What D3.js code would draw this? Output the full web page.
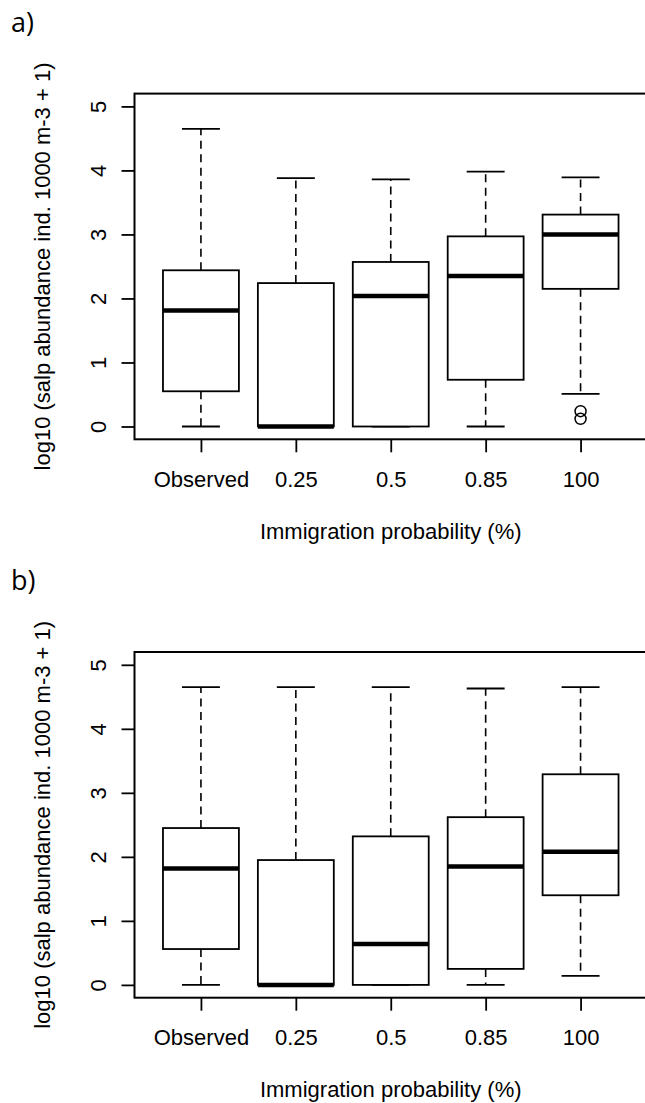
<!DOCTYPE html>
<html>
<head>
<meta charset="utf-8">
<script src="https://cdn.jsdelivr.net/npm/d3@7"></script>
<style>
  body { margin: 0; background: #fff; }
</style>
</head>
<body>
<svg id="chart" width="645" height="1103"></svg>
<script>
// groups along the x axis
const groups = ["Observed", "0.25", "0.5", "0.85", "100"];
const yTicks = [0, 1, 2, 3, 4, 5];

// panel a) box stats, log10 scale
const aLow  = [0.00, 0.00, 0.00, 0.00, 0.51];
const aQ1   = [0.55, 0.00, 0.00, 0.73, 2.15];
const aMed  = [1.81, 0.00, 2.04, 2.35, 3.00];
const aQ3   = [2.44, 2.24, 2.57, 2.97, 3.31];
const aHigh = [4.65, 3.88, 3.86, 3.98, 3.89];
const aOut  = [[], [], [], [], [0.24, 0.12]];

// panel b)
const bLow  = [0.00, 0.00, 0.00, 0.00, 0.14];
const bQ1   = [0.56, 0.00, 0.00, 0.25, 1.40];
const bMed  = [1.82, 0.00, 0.64, 1.85, 2.08];
const bQ3   = [2.45, 1.95, 2.32, 2.62, 3.29];
const bHigh = [4.65, 4.65, 4.65, 4.63, 4.65];
const bOut  = [[], [], [], [], []];

const xTitle = "Immigration probability (%)";
const yTitle = "log10 (salp abundance ind. 1000 m-3 + 1)";

const font = "'Liberation Sans', Arial, Helvetica, sans-serif";
const plotLeft = 134.5, plotRight = 647, plotTop = 93.6, plotBottom = 439.3;

const x = d3.scaleLinear().domain([0.3, 5.7]).range([plotLeft, plotRight]);
const y = d3.scaleLinear().domain([-0.2, 5.2]).range([plotBottom, plotTop]);

const svg = d3.select("#chart");

function drawPanel(offset, tag, low, q1, med, q3, high, outs) {
  const g = svg.append("g").attr("transform", "translate(0," + offset + ")");

  g.append("text")
    .attr("x", 11).attr("y", 32)
    .attr("font-family", "'Open Sans', 'Noto Sans', sans-serif")
    .attr("font-size", 27)
    .text(tag);

  const data = groups.map((d, i) => ({
    i: i + 1, low: low[i], q1: q1[i], med: med[i], q3: q3[i], high: high[i], out: outs[i]
  }));

  const boxes = g.selectAll(".box").data(data).enter().append("g").attr("class", "box");

  // whiskers
  boxes.append("line")
    .attr("x1", d => x(d.i)).attr("x2", d => x(d.i))
    .attr("y1", d => y(d.q3)).attr("y2", d => y(d.high))
    .attr("stroke", "#000").attr("stroke-width", 1.6).attr("stroke-dasharray", "8,5.5");
  boxes.append("line")
    .attr("x1", d => x(d.i)).attr("x2", d => x(d.i))
    .attr("y1", d => y(d.q1)).attr("y2", d => y(d.low))
    .attr("stroke", "#000").attr("stroke-width", 1.6).attr("stroke-dasharray", "8,5.5");

  // staples
  ["high", "low"].forEach(k => {
    boxes.append("line")
      .attr("x1", d => x(d.i - 0.2)).attr("x2", d => x(d.i + 0.2))
      .attr("y1", d => y(d[k])).attr("y2", d => y(d[k]))
      .attr("stroke", "#000").attr("stroke-width", 1.8);
  });

  boxes.append("rect")
    .attr("x", d => x(d.i - 0.4))
    .attr("width", d => x(d.i + 0.4) - x(d.i - 0.4))
    .attr("y", d => y(d.q3))
    .attr("height", d => y(d.q1) - y(d.q3))
    .attr("fill", "#fff").attr("stroke", "#000").attr("stroke-width", 1.8);

  boxes.append("line")
    .attr("x1", d => x(d.i - 0.4)).attr("x2", d => x(d.i + 0.4))
    .attr("y1", d => y(d.med)).attr("y2", d => y(d.med))
    .attr("stroke", "#000").attr("stroke-width", 4.5);

  boxes.selectAll("circle").data(d => d.out.map(v => ({ i: d.i, v: v })))
    .enter().append("circle")
    .attr("cx", d => x(d.i)).attr("cy", d => y(d.v)).attr("r", 5.5)
    .attr("fill", "none").attr("stroke", "#000").attr("stroke-width", 1.5);

  // frame
  g.append("rect")
    .attr("x", plotLeft).attr("y", plotTop)
    .attr("width", plotRight - plotLeft).attr("height", plotBottom - plotTop)
    .attr("fill", "none").attr("stroke", "#000").attr("stroke-width", 2);

  // y axis
  const gy = g.append("g")
    .attr("transform", "translate(" + plotLeft + ",0)")
    .call(d3.axisLeft(y).tickValues(yTicks).tickFormat(d3.format("d")).tickSize(13))
    .attr("font-family", font).attr("font-size", 22);
  gy.select(".domain").remove();
  gy.selectAll(".tick line").attr("stroke", "#000").attr("stroke-width", 1.8);
  gy.selectAll(".tick text")
    .attr("x", null).attr("dy", null)
    .attr("transform", "translate(-28.5,0) rotate(-90)")
    .attr("text-anchor", "middle")
    .attr("fill", "#000");

  // x axis
  const gx = g.append("g")
    .attr("transform", "translate(0," + plotBottom + ")")
    .call(d3.axisBottom(x).tickValues(d3.range(1, groups.length + 1))
      .tickFormat(d => groups[d - 1]).tickSize(13))
    .attr("font-family", font).attr("font-size", 22);
  gx.select(".domain").remove();
  gx.selectAll(".tick line").attr("stroke", "#000").attr("stroke-width", 1.8);
  gx.selectAll(".tick text")
    .attr("y", 47.8).attr("dy", null)
    .attr("fill", "#000");

  g.append("text")
    .attr("x", (plotLeft + plotRight) / 2).attr("y", 539)
    .attr("text-anchor", "middle")
    .attr("font-family", font).attr("font-size", 22)
    .text(xTitle);

  g.append("text")
    .attr("transform", "translate(50," + (plotTop + plotBottom) / 2 + ") rotate(-90)")
    .attr("text-anchor", "middle")
    .attr("font-family", font).attr("font-size", 22)
    .text(yTitle);
}

drawPanel(0, "a)", aLow, aQ1, aMed, aQ3, aHigh, aOut);
drawPanel(558.4, "b)", bLow, bQ1, bMed, bQ3, bHigh, bOut);
</script>
</body>
</html>
